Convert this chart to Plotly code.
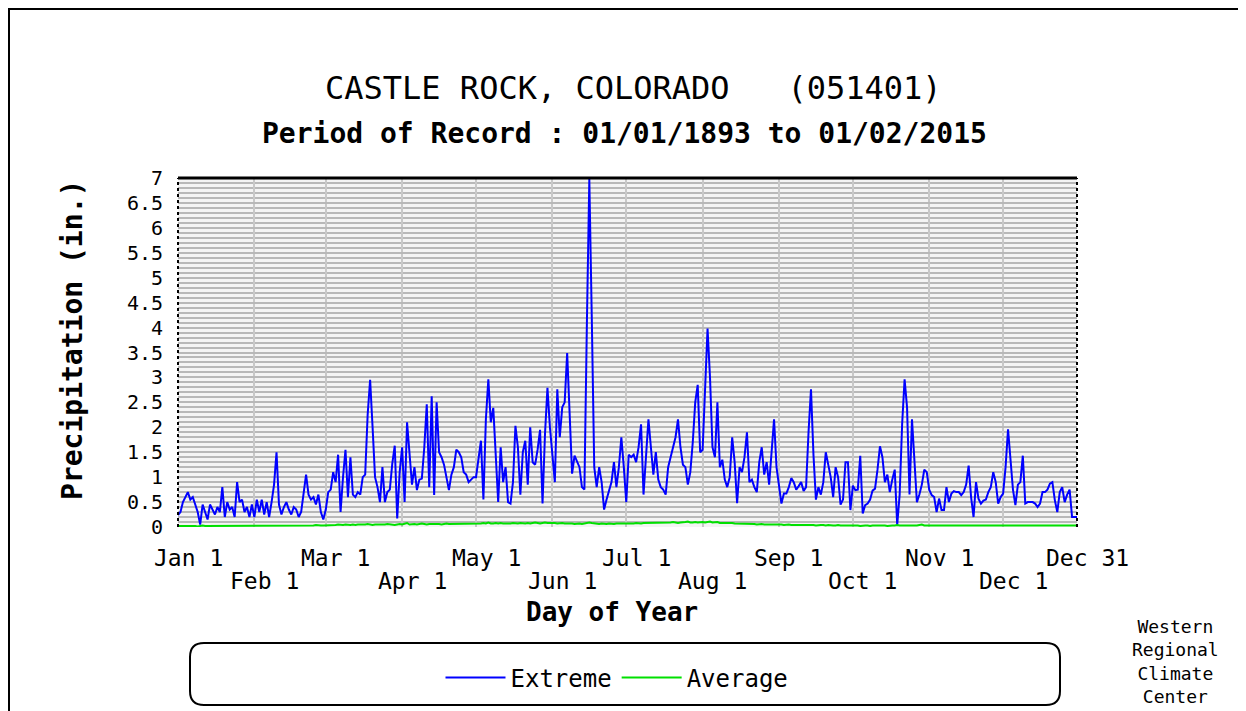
import plotly.graph_objects as go

# ---------------- data ----------------
ROW1_LABELS = ["Jan 1", "Mar 1", "May 1", "Jul 1", "Sep 1", "Nov 1", "Dec 31"]
ROW1_DAYS = [1, 61, 122, 183, 245, 306, 366]
ROW2_LABELS = ["Feb 1", "Apr 1", "Jun 1", "Aug 1", "Oct 1", "Dec 1"]
ROW2_DAYS = [32, 92, 153, 214, 275, 336]
GRID_DAYS = [32, 61, 92, 122, 153, 183, 214, 245, 275, 306, 336]

Y_TICKS = [0, 0.5, 1, 1.5, 2, 2.5, 3, 3.5, 4, 4.5, 5, 5.5, 6, 6.5, 7]
Y_TICK_TEXT = ["0", "0.5", "1", "1.5", "2", "2.5", "3", "3.5", "4", "4.5", "5", "5.5", "6", "6.5", "7"]

EXTREME = [
    # Jan
    0.24, 0.30, 0.50, 0.60, 0.70, 0.55, 0.60, 0.45, 0.30, 0.05, 0.45, 0.30, 0.15, 0.45, 0.35, 0.25,
    0.40, 0.30, 0.80, 0.20, 0.50, 0.35, 0.40, 0.20, 0.90, 0.50, 0.55, 0.30, 0.40, 0.20, 0.45,
    # Feb
    0.20, 0.55, 0.30, 0.55, 0.25, 0.50, 0.20, 0.50, 0.85, 1.50, 0.45, 0.25, 0.40, 0.50, 0.35,
    0.25, 0.40, 0.35, 0.20, 0.30, 0.70, 1.05, 0.65, 0.55, 0.60, 0.45, 0.65, 0.30, 0.15,
    # Mar
    0.35, 0.70, 0.75, 1.10, 0.90, 1.45, 0.30, 1.00, 1.55, 0.60, 1.40, 0.65, 0.60, 0.70, 0.65, 1.00,
    1.05, 2.25, 2.95, 2.00, 1.00, 0.80, 0.50, 1.20, 0.50, 0.70, 0.75, 1.27, 1.63, 0.17, 1.10,
    # Apr
    1.60, 0.50, 2.10, 1.40, 0.85, 1.20, 0.74, 0.95, 0.97, 1.60, 2.46, 0.80, 2.62, 0.64, 2.50,
    1.50, 1.40, 1.25, 1.00, 0.74, 1.05, 1.20, 1.55, 1.50, 1.40, 1.10, 1.05, 0.90, 0.95, 1.00,
    # May
    1.00, 1.35, 1.73, 0.55, 2.16, 2.96, 2.10, 2.39, 1.40, 0.50, 1.60, 0.90, 1.20, 0.50, 0.47, 0.90,
    2.03, 1.60, 0.65, 1.50, 1.73, 0.85, 2.00, 1.30, 1.25, 1.55, 1.95, 0.47, 1.86, 2.79, 2.00,
    # Jun
    1.50, 0.90, 2.76, 1.80, 2.40, 2.50, 3.49, 2.25, 1.07, 1.43, 1.30, 1.20, 0.80, 0.75, 4.05,
    6.98, 4.18, 1.20, 0.80, 1.20, 0.90, 0.35, 0.55, 0.75, 0.90, 1.30, 0.80, 1.20, 1.80, 1.20,
    # Jul
    0.50, 1.45, 1.40, 1.45, 1.30, 1.60, 2.06, 0.65, 1.50, 2.16, 1.60, 1.05, 1.50, 0.95, 0.80, 0.75,
    0.65, 1.20, 1.40, 1.60, 1.80, 2.16, 1.60, 1.25, 1.20, 0.85, 1.10, 1.70, 2.50, 2.85, 1.50,
    # Aug
    1.55, 2.95, 3.98, 3.00, 1.60, 1.40, 2.50, 1.20, 1.35, 0.95, 0.80, 1.00, 1.80, 1.30, 0.48, 1.20,
    1.10, 1.40, 1.90, 0.90, 0.95, 0.80, 0.70, 1.30, 1.60, 1.05, 1.30, 0.85, 1.45, 2.16, 1.20,
    # Sep
    0.85, 0.47, 0.67, 0.67, 0.80, 0.98, 0.90, 0.75, 0.82, 0.90, 0.72, 0.80, 1.90, 2.76, 1.45,
    0.55, 0.80, 0.65, 0.90, 1.50, 1.25, 1.00, 0.60, 1.20, 1.00, 0.45, 0.55, 1.30, 1.30, 0.34,
    # Oct
    0.83, 0.74, 0.75, 1.43, 0.27, 0.44, 0.47, 0.55, 0.73, 0.77, 1.15, 1.62, 1.40, 0.90, 1.05, 0.70,
    0.95, 1.15, 0.04, 0.65, 2.06, 2.96, 2.40, 0.65, 2.16, 1.30, 0.50, 0.65, 0.85, 1.15, 1.10,
    # Nov
    0.75, 0.64, 0.60, 0.30, 0.57, 0.34, 0.34, 0.80, 0.50, 0.67, 0.72, 0.70, 0.70, 0.64, 0.70,
    0.85, 1.23, 0.60, 0.20, 0.90, 0.57, 0.47, 0.53, 0.55, 0.70, 0.80, 1.10, 0.90, 0.47, 0.60,
    # Dec
    0.67, 1.20, 1.96, 1.35, 0.75, 0.44, 0.85, 0.90, 1.43, 0.47, 0.50, 0.50, 0.50, 0.47, 0.40, 0.47,
    0.70, 0.70, 0.75, 0.87, 0.90, 0.54, 0.30, 0.70, 0.80, 0.50, 0.65, 0.75, 0.20, 0.20, 0.20,
]

AVERAGE = [
    # Jan
    0.02, 0.02, 0.03, 0.02, 0.02, 0.03, 0.02, 0.02, 0.01, 0.02, 0.03, 0.02, 0.02, 0.02, 0.03, 0.02,
    0.02, 0.02, 0.03, 0.02, 0.02, 0.03, 0.02, 0.02, 0.02, 0.03, 0.02, 0.03, 0.02, 0.02, 0.03,
    # Feb
    0.02, 0.03, 0.02, 0.03, 0.02, 0.02, 0.03, 0.03, 0.02, 0.03, 0.03, 0.02, 0.03, 0.02, 0.03,
    0.03, 0.02, 0.03, 0.03, 0.02, 0.03, 0.03, 0.03, 0.02, 0.03, 0.04, 0.03, 0.03, 0.03,
    # Mar
    0.03, 0.04, 0.04, 0.03, 0.04, 0.05, 0.04, 0.04, 0.05, 0.04, 0.04, 0.05, 0.04, 0.05, 0.05, 0.04,
    0.05, 0.06, 0.05, 0.04, 0.05, 0.05, 0.04, 0.05, 0.05, 0.06, 0.05, 0.05, 0.04, 0.05, 0.06,
    # Apr
    0.05, 0.06, 0.08, 0.05, 0.06, 0.06, 0.05, 0.06, 0.07, 0.06, 0.05, 0.06, 0.06, 0.07, 0.06,
    0.06, 0.05, 0.06, 0.07, 0.06, 0.06, 0.07, 0.06, 0.06, 0.07, 0.06, 0.07, 0.07, 0.06, 0.07,
    # May
    0.07, 0.06, 0.07, 0.08, 0.07, 0.09, 0.07, 0.07, 0.08, 0.07, 0.08, 0.07, 0.07, 0.06, 0.07, 0.08,
    0.07, 0.07, 0.08, 0.07, 0.07, 0.08, 0.07, 0.08, 0.09, 0.08, 0.07, 0.08, 0.09, 0.08, 0.08,
    # Jun
    0.09, 0.08, 0.07, 0.08, 0.08, 0.07, 0.07, 0.08, 0.07, 0.06, 0.07, 0.07, 0.06, 0.07, 0.08,
    0.09, 0.08, 0.07, 0.06, 0.06, 0.07, 0.06, 0.06, 0.07, 0.06, 0.06, 0.07, 0.07, 0.06, 0.07,
    # Jul
    0.07, 0.06, 0.07, 0.07, 0.08, 0.07, 0.07, 0.08, 0.08, 0.09, 0.08, 0.08, 0.09, 0.08, 0.08, 0.09,
    0.09, 0.08, 0.09, 0.10, 0.09, 0.08, 0.09, 0.09, 0.10, 0.11, 0.09, 0.09, 0.10, 0.09, 0.10,
    # Aug
    0.10, 0.09, 0.10, 0.11, 0.09, 0.09, 0.10, 0.08, 0.08, 0.09, 0.08, 0.08, 0.08, 0.07, 0.07, 0.07,
    0.06, 0.06, 0.07, 0.06, 0.06, 0.06, 0.05, 0.06, 0.06, 0.05, 0.05, 0.06, 0.05, 0.05, 0.05,
    # Sep
    0.05, 0.05, 0.04, 0.05, 0.05, 0.04, 0.04, 0.05, 0.04, 0.04, 0.04, 0.05, 0.04, 0.04, 0.04,
    0.03, 0.04, 0.04, 0.04, 0.03, 0.04, 0.03, 0.03, 0.03, 0.04, 0.03, 0.03, 0.03, 0.03, 0.04,
    # Oct
    0.03, 0.03, 0.03, 0.02, 0.03, 0.03, 0.03, 0.02, 0.03, 0.03, 0.04, 0.03, 0.03, 0.03, 0.02, 0.03,
    0.03, 0.03, 0.04, 0.03, 0.03, 0.02, 0.03, 0.03, 0.03, 0.02, 0.03, 0.04, 0.05, 0.03, 0.03,
    # Nov
    0.03, 0.03, 0.02, 0.03, 0.03, 0.02, 0.03, 0.03, 0.02, 0.03, 0.03, 0.03, 0.02, 0.03, 0.02,
    0.03, 0.02, 0.03, 0.02, 0.02, 0.03, 0.02, 0.03, 0.03, 0.02, 0.02, 0.03, 0.02, 0.02, 0.03,
    # Dec
    0.02, 0.02, 0.03, 0.02, 0.02, 0.02, 0.03, 0.02, 0.02, 0.02, 0.03, 0.02, 0.02, 0.02, 0.02, 0.03,
    0.02, 0.02, 0.02, 0.02, 0.03, 0.02, 0.02, 0.02, 0.02, 0.03, 0.02, 0.02, 0.02, 0.02, 0.03,
]

DAYS = list(range(1, len(EXTREME) + 1))
AVG_DAYS = list(range(1, len(AVERAGE) + 1))

# ---------------- layout helpers (in page pixels; page body has an 8px margin) ----------------
FIG_W, FIG_H = 1246, 711
PAGE_OFF = 8
PLOT_X0, PLOT_Y0, PLOT_W, PLOT_H = 178, 178, 899, 349
L, T = PLOT_X0 - PAGE_OFF, PLOT_Y0 - PAGE_OFF
R, B = FIG_W - L - PLOT_W, FIG_H - T - PLOT_H


def px(x):
    return (x - PLOT_X0) / PLOT_W


def py(y):
    return (PLOT_Y0 + PLOT_H - y) / PLOT_H


MONO = "DejaVu Sans Mono"

fig = go.Figure()
fig.add_trace(go.Scatter(x=DAYS, y=EXTREME, mode="lines", name="Extreme",
                         line=dict(color="#0000ff", width=2)))
fig.add_trace(go.Scatter(x=AVG_DAYS, y=AVERAGE, mode="lines", name="Average",
                         line=dict(color="#00e000", width=2)))

shapes = []
# plot frame
shapes.append(dict(type="line", xref="paper", yref="paper", x0=0, x1=1, y0=1, y1=1,
                   line=dict(color="black", width=3), layer="above"))
shapes.append(dict(type="line", xref="paper", yref="paper", x0=0, x1=0, y0=0, y1=1,
                   line=dict(color="black", width=2, dash="dot"), layer="above"))
shapes.append(dict(type="line", xref="paper", yref="paper", x0=1, x1=1, y0=0, y1=1,
                   line=dict(color="black", width=2, dash="dot"), layer="above"))
# outer page frame
shapes.append(dict(type="rect", xref="paper", yref="paper", x0=px(9), x1=px(1270),
                   y0=py(730), y1=py(9), line=dict(color="black", width=2)))
# rounded legend box
x0, x1 = px(190), px(1060)
y0, y1 = py(705), py(643)
rx, ry = 14 / PLOT_W, 14 / PLOT_H
path = (f"M {x0+rx},{y1} L {x1-rx},{y1} Q {x1},{y1} {x1},{y1-ry} L {x1},{y0+ry} "
        f"Q {x1},{y0} {x1-rx},{y0} L {x0+rx},{y0} Q {x0},{y0} {x0},{y0+ry} "
        f"L {x0},{y1-ry} Q {x0},{y1} {x0+rx},{y1} Z")
shapes.append(dict(type="path", xref="paper", yref="paper", path=path,
                   line=dict(color="black", width=2)))


def ann(text, x, y, size, xref="paper", xshift=0, angle=0):
    return dict(text=text, xref=xref, yref="paper", x=x, y=y, xshift=xshift, showarrow=False,
                xanchor="center", yanchor="middle", textangle=angle, align="center",
                font=dict(family=MONO, size=size, color="black"))


annotations = [
    ann("CASTLE ROCK, COLORADO   (051401)", px(633), py(88), 32),
    ann("<b>Period of Record : 01/01/1893 to 01/02/2015</b>", px(624), py(133), 28),
    ann("<b>Precipitation (in.)</b>", px(72), py(340), 28, angle=-90),
    ann("<b>Day of Year</b>", px(612), py(612), 26),
    ann("Western<br>Regional<br>Climate<br>Center", px(1175), py(661), 18),
]
for lab, d in zip(ROW1_LABELS, ROW1_DAYS):
    annotations.append(ann(lab, d, py(558), 23, xref="x", xshift=10))
for lab, d in zip(ROW2_LABELS, ROW2_DAYS):
    annotations.append(ann(lab, d, py(581), 23, xref="x", xshift=10))

fig.update_layout(
    width=FIG_W, height=FIG_H,
    margin=dict(l=L, r=R, t=T, b=B, autoexpand=False),
    paper_bgcolor="white", plot_bgcolor="#f4f4f4",
    showlegend=True,
    legend=dict(orientation="h", x=px(617), xanchor="center", y=py(678), yanchor="middle",
                font=dict(family=MONO, size=24, color="black"), bgcolor="rgba(0,0,0,0)",
                itemwidth=60),
    xaxis=dict(range=[1, 366], tickvals=GRID_DAYS, showticklabels=False, ticks="",
               showgrid=True, gridcolor="#c8c8c8", gridwidth=2, zeroline=False, showline=False),
    yaxis=dict(range=[0, 7], tickvals=Y_TICKS, ticktext=Y_TICK_TEXT, ticks="",
               tickfont=dict(family=MONO, size=20, color="black"), ticklabelstandoff=14,
               showgrid=True, gridcolor="#b8b8b8", gridwidth=2, zeroline=False, showline=False,
               minor=dict(dtick=0.1, showgrid=True, gridcolor="#b8b8b8", gridwidth=2)),
    shapes=shapes,
    annotations=annotations,
)

fig.write_html("out.html")
